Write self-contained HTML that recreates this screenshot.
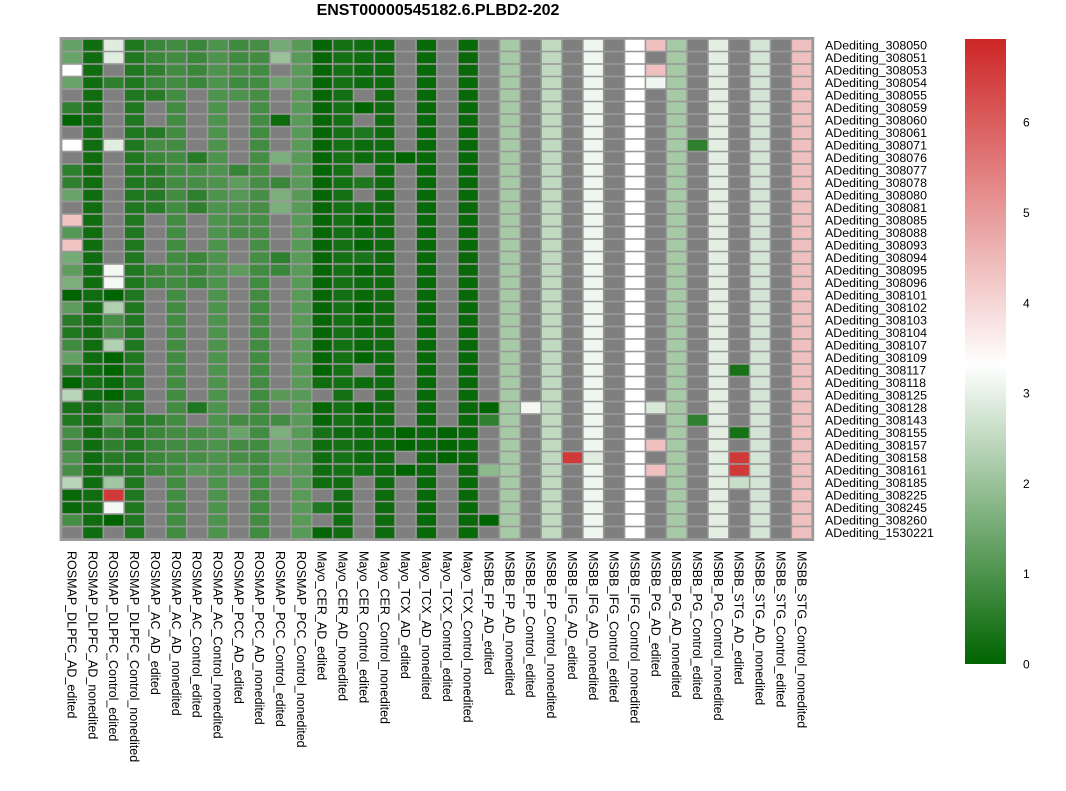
<!DOCTYPE html>
<html><head><meta charset="utf-8">
<style>
html,body{margin:0;padding:0;background:#fff;}
svg{display:block;font-family:"Liberation Sans",sans-serif;}
</style></head>
<body>
<svg id="chart" width="1066" height="791">
<text x="438" y="15" text-anchor="middle" font-size="16" font-weight="bold">ENST00000545182.6.PLBD2-202</text>
<g id="cells"></g>
<g id="rowlabels"></g>
<g id="collabels"></g>
<defs>
<linearGradient id="lg" x1="0" y1="1" x2="0" y2="0">
<stop offset="0" stop-color="#006400"/>
<stop offset="0.478" stop-color="#ffffff"/>
<stop offset="1" stop-color="#cd2626"/>
</linearGradient>
</defs>
<rect x="965" y="39" width="41" height="625" fill="url(#lg)"/>
<g id="legendticks"></g>
</svg>
<script>
const rowNames = ["ADediting_308050","ADediting_308051","ADediting_308053","ADediting_308054","ADediting_308055","ADediting_308059","ADediting_308060","ADediting_308061","ADediting_308071","ADediting_308076","ADediting_308077","ADediting_308078","ADediting_308080","ADediting_308081","ADediting_308085","ADediting_308088","ADediting_308093","ADediting_308094","ADediting_308095","ADediting_308096","ADediting_308101","ADediting_308102","ADediting_308103","ADediting_308104","ADediting_308107","ADediting_308109","ADediting_308117","ADediting_308118","ADediting_308125","ADediting_308128","ADediting_308143","ADediting_308155","ADediting_308157","ADediting_308158","ADediting_308161","ADediting_308185","ADediting_308225","ADediting_308245","ADediting_308260","ADediting_1530221"];
const colNames = ["ROSMAP_DLPFC_AD_edited","ROSMAP_DLPFC_AD_nonedited","ROSMAP_DLPFC_Control_edited","ROSMAP_DLPFC_Control_nonedited","ROSMAP_AC_AD_edited","ROSMAP_AC_AD_nonedited","ROSMAP_AC_Control_edited","ROSMAP_AC_Control_nonedited","ROSMAP_PCC_AD_edited","ROSMAP_PCC_AD_nonedited","ROSMAP_PCC_Control_edited","ROSMAP_PCC_Control_nonedited","Mayo_CER_AD_edited","Mayo_CER_AD_nonedited","Mayo_CER_Control_edited","Mayo_CER_Control_nonedited","Mayo_TCX_AD_edited","Mayo_TCX_AD_nonedited","Mayo_TCX_Control_edited","Mayo_TCX_Control_nonedited","MSBB_FP_AD_edited","MSBB_FP_AD_nonedited","MSBB_FP_Control_edited","MSBB_FP_Control_nonedited","MSBB_IFG_AD_edited","MSBB_IFG_AD_nonedited","MSBB_IFG_Control_edited","MSBB_IFG_Control_nonedited","MSBB_PG_AD_edited","MSBB_PG_AD_nonedited","MSBB_PG_Control_edited","MSBB_PG_Control_nonedited","MSBB_STG_AD_edited","MSBB_STG_AD_nonedited","MSBB_STG_Control_edited","MSBB_STG_Control_nonedited"];
const legendTicks = [0,1,2,3,4,5,6];
const N = null;
// left half: columns 0-17
const leftVals = [
[1.3,.2,2.9,.4,.75,.85,.75,1,.8,.9,1.5,1.15,.05,.25,.2,.15,N,.1],
[1.35,.2,2.9,.4,.75,.85,.75,1,.8,.85,2,1.15,.05,.25,.2,.15,N,.1],
[3.3,.2,N,.4,.6,.85,.75,1,.9,.85,N,1.15,.05,.25,.15,.15,N,.1],
[1.35,.2,.6,.4,.75,.85,.75,1,.8,.85,1.35,1.15,.05,.25,.15,.15,N,.1],
[N,.2,N,.4,.5,.85,N,1,1,.9,N,1.15,.05,.25,N,.15,N,.1],
[.6,.2,N,.4,N,.85,N,1,N,.9,N,1.15,.05,.25,0,.15,N,.1],
[0,.2,N,.4,N,.85,N,1,N,.85,.15,1.15,.05,.25,N,.15,N,.1],
[N,.2,N,.4,.5,.85,N,1,N,.85,N,1.15,.05,.25,.4,.15,N,.1],
[3.3,.2,2.9,.4,.9,.85,N,1,N,.85,N,1.15,.05,.25,.15,.15,N,.1],
[N,.2,N,.4,.75,.85,.5,1,N,.9,1.6,1.15,.05,.25,.15,.15,0,.1],
[.6,.2,N,.4,.5,.85,.9,1,.7,.9,N,1.15,.05,.25,N,.15,N,.1],
[.6,.2,N,.4,.5,.85,.9,1,1.2,.9,.75,1.15,.05,.25,.4,.15,N,.1],
[1.35,.2,N,.4,.5,.85,.6,1,1.1,.9,1.6,1.15,.05,.25,N,.15,N,.1],
[N,.2,N,.4,.5,.85,.6,1,1,.9,1.6,1.15,.05,.25,.3,.15,N,.1],
[4.3,.2,N,.4,N,.85,N,1,.9,.9,N,1.15,.05,.25,0,.15,N,.1],
[1.1,.2,N,.4,N,.85,N,1,.9,.9,N,1.15,.05,.25,.2,.15,N,.1],
[4.3,.2,N,.4,N,.85,N,1,N,.9,N,1.15,.05,.25,0,.15,N,.1],
[1.5,.2,N,.4,N,.85,.75,1,N,.9,.6,1.15,.05,.25,.35,.15,N,.1],
[1.2,.2,3.15,.4,.75,.85,.75,1,1.2,.85,.75,1.15,.05,.25,.05,.15,N,.1],
[1.6,.2,3.15,.4,.75,.85,.75,1,N,.85,N,1.15,.05,.25,.15,.15,N,.1],
[0,.2,0,.4,N,.85,N,1,N,.85,N,1.15,.05,.25,.1,.15,N,.1],
[1.2,.2,2.3,.4,N,.85,N,1,N,.85,N,1.15,.05,.25,0,.15,N,.1],
[.5,.2,.9,.4,N,.85,N,1,N,.85,N,1.15,.05,.25,.1,.15,N,.1],
[.4,.2,.9,.4,N,.85,N,1,N,.85,N,1.15,.05,.25,.15,.15,N,.1],
[.8,.2,2.3,.4,N,.85,N,1,N,.85,N,1.15,.05,.25,.1,.15,N,.1],
[1.3,.2,0,.4,N,.85,N,1,N,.85,N,1.15,.05,.25,0,.15,N,.1],
[.5,.2,0,.4,N,.85,N,1,N,.85,N,1.15,0,.25,N,.15,N,.1],
[0,.25,.1,.4,N,.85,N,1,N,.85,N,1.15,.2,.25,.15,.15,N,.1],
[2.4,.2,0,.4,N,.85,N,1,N,.85,1.15,1.15,N,.25,N,.15,N,.1],
[.3,.2,.6,.4,N,.85,.4,1,N,.85,N,1.15,.05,.25,0,.15,N,.1],
[.4,.2,1.1,.4,.6,.85,N,1,.85,.85,.85,1.15,.05,.25,.15,.15,N,.1],
[.9,.2,.6,.4,.75,.85,.9,1,1.35,.85,1.6,1.15,.3,.15,.15,.15,0,.1],
[.75,.2,.6,.4,.75,.85,.9,1,.85,.85,1.35,1.15,.2,.25,.15,.15,0,.1],
[1,.2,.5,.4,.75,.85,.9,1,.9,.85,1.2,1.15,.2,.3,.15,.15,N,.1],
[.9,.2,.4,.4,.75,.85,1.1,1,1.1,.85,1.2,1.15,.2,.25,.25,.15,0,.1],
[2.4,.2,2.1,.4,N,.85,N,1,N,.85,N,1.15,.2,.2,N,.15,N,.1],
[.1,.2,6.6,.4,N,.85,N,1,N,.85,N,1.15,N,.2,N,.15,N,.1],
[.1,.2,3.15,.4,N,.85,N,1,N,.85,N,1.15,.4,.2,N,.15,N,.1],
[.9,.2,0,.4,N,.85,N,1,N,.85,N,1.15,N,.2,N,.15,N,.1],
[N,.2,N,.4,N,.85,N,1,N,.85,N,1.15,.05,.2,N,.15,N,.1]
];
// right half: columns 18-35
const B = [N,.1,N,2.15,N,2.5,N,3.1,N,3.3,N,2.15,N,2.95,N,2.75,N,4.35];
const rightVals = [];
for (let r=0;r<40;r++) rightVals.push(B.slice());
const rightExceptions = [[0,28,4.35],[2,28,4.35],[3,28,3.1],[8,30,.6],[26,32,.3],[29,20,0],[29,22,3.15],[29,28,2.8],[30,20,.6],[30,30,.6],[31,18,0],[31,32,.3],[32,18,0],[32,28,4.35],[33,18,0],[33,24,6.6],[33,25,2.9],[33,32,6.6],[34,20,1.8],[34,28,4.35],[34,32,6.6],[35,32,2.6],[38,20,0]];
rightExceptions.forEach(e=>{rightVals[e[0]][e[1]-18]=e[2];});

const NS="http://www.w3.org/2000/svg";
const gx0=61.6, gy0=39, cw=20.85, ch=12.5, vmax=6.9, vmid=3.3;
function xPos(c){return gx0+c*cw;}
function yPos(r){return gy0+r*ch;}
function color(v){
  const mix=(a,b,t)=>Math.round(a+(b-a)*t);
  if(v<=vmid){const t=v/vmid;return `rgb(${mix(0,255,t)},${mix(100,255,t)},${mix(0,255,t)})`;}
  const t=Math.min(1,(v-vmid)/(vmax-vmid));return `rgb(${mix(255,205,t)},${mix(255,38,t)},${mix(255,38,t)})`;
}
const cells=document.getElementById('cells');
const bg=document.createElementNS(NS,'rect');
bg.setAttribute('x',gx0-2);bg.setAttribute('y',gy0-2);bg.setAttribute('width',36*cw+4);bg.setAttribute('height',40*ch+4);bg.setAttribute('fill','#999');


cells.appendChild(bg);
for(let r=0;r<40;r++){
  for(let c=0;c<36;c++){
    const v = c<18 ? leftVals[r][c] : rightVals[r][c-18];
    const rc=document.createElementNS(NS,'rect');
    rc.setAttribute('x',(xPos(c)+0.8).toFixed(2));rc.setAttribute('y',(yPos(r)+0.8).toFixed(2));
    rc.setAttribute('width',(cw-1.6).toFixed(2));rc.setAttribute('height',(ch-1.6).toFixed(2));
    rc.setAttribute('fill', v===null? '#7f7f7f' : color(v));
    
    
    cells.appendChild(rc);
  }
}
const rl=document.getElementById('rowlabels');
rowNames.forEach((n,r)=>{
  const t=document.createElementNS(NS,'text');
  t.setAttribute('x',825);t.setAttribute('y',(yPos(r)+ch/2+4.3).toFixed(1));
  t.setAttribute('font-size','12.4');t.textContent=n;
  
  
  rl.appendChild(t);
});
const cl=document.getElementById('collabels');
colNames.forEach((n,c)=>{
  const x=xPos(c)+cw/2-4.5, y=551;
  const t=document.createElementNS(NS,'text');
  t.setAttribute('x',x);t.setAttribute('y',y);
  t.setAttribute('transform',`rotate(90 ${x} ${y})`);
  t.setAttribute('font-size','12.5');t.textContent=n;
  
  
  cl.appendChild(t);
});
const lt=document.getElementById('legendticks');
legendTicks.forEach(v=>{
  const t=document.createElementNS(NS,'text');
  t.setAttribute('x',1023);t.setAttribute('y',(664-v*90.3+4.5).toFixed(1));
  t.setAttribute('font-size','12');t.textContent=v;
  
  
  lt.appendChild(t);
});
</script>
</body></html>
